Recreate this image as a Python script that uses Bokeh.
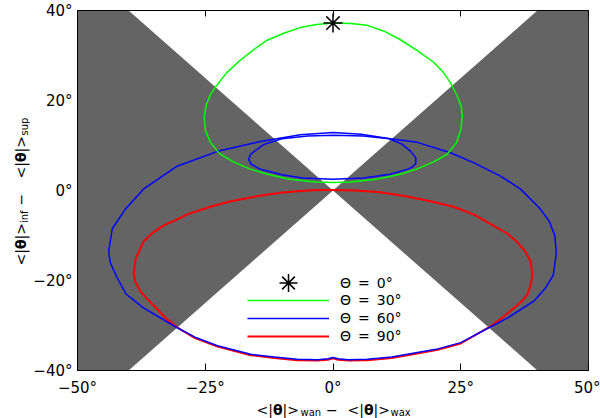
import numpy as np
from bokeh.plotting import figure
from bokeh.layouts import row, column
from bokeh.models import (LinearAxis, FixedTicker, Legend, LegendItem, ColumnDataSource, Range1d)
from bokeh.core.properties import value, field
from bokeh.embed import file_html
from bokeh.resources import INLINE

# ---------------- data (degrees) ----------------
X_LIM = [-50, 50]
Y_LIM = [-40, 40]
X_TICKS = [-50, -25, 0, 25, 50]
X_TICK_LABELS = ["\u221250\u00b0", "\u221225\u00b0", "0\u00b0", "25\u00b0", "50\u00b0"]
Y_TICKS = [-40, -20, 0, 20, 40]
Y_TICK_LABELS = ["\u221240\u00b0", "\u221220\u00b0", "0\u00b0", "20\u00b0", "40\u00b0"]

SERIES_NAMES = ["\u0398\u2002=\u20020\u00b0", "\u0398\u2002=\u200230\u00b0",
                "\u0398\u2002=\u200260\u00b0", "\u0398\u2002=\u200290\u00b0"]

# Theta = 0 : single point
P0_X = [0.0]
P0_Y = [37.2]

# Theta = 30 (green loop)
G_X = [0, 3.5, 6.7, 10, 13.2, 16.5, 19.7, 21.5, 23.0, 24.3, 25.1, 25.3, 25.0, 24.2, 22.3,
       19.6, 16.5, 13.2, 8.5, 3.4, 0, -3.4, -8.5, -12.8, -16.3, -19.4, -22.2, -24.0, -25.0,
       -25.2, -24.8, -24.0, -23.0, -20.8, -18.1, -15.5, -12.9, -9.5, -6.4, -3.2, 0]
G_Y = [37.2, 37.1, 36.7, 35.4, 33.5, 31.1, 28.5, 26.4, 23.9, 21.0, 18.7, 16.4, 13.5, 10.7, 8.0,
       6.3, 4.8, 3.6, 2.5, 1.9, 1.8, 1.9, 2.5, 3.6, 4.8, 6.3, 8.2, 10.7, 13.5,
       16.4, 19.0, 21.3, 23.0, 26.2, 29.0, 31.3, 33.4, 35.0, 36.2, 36.9, 37.2]

# Theta = 60 (blue, outer loop)
B_X = [0, 5.5, 11.2, 16.5, 23.0, 27.5, 32.8, 36.7, 40.4, 42.3, 43.4, 43.7, 43.1, 41.5, 39.3,
       34.2, 30.5, 25.0, 20.5, 16.5, 11.5, 6.7, 3.0, 1.0, 0, -1.0, -3.0, -7.0, -11.5, -16.1,
       -22.6, -27, -30.5, -37.1, -40.5, -42.2, -43.6, -43.9, -43.2, -40.6, -37.1, -30.5,
       -22.6, -14.2, -6.4, 0]
B_Y = [12.9, 12.5, 11.5, 10.7, 8.4, 6.2, 3.2, 0.3, -3.9, -6.8, -10.0, -14.0, -18.8, -21.8, -24.6,
       -28.3, -30.5, -33.8, -35.2, -36.0, -37.0, -37.5, -37.6, -37.4, -37.1, -37.4, -37.6, -37.5,
       -37.0, -36.4, -34.5, -32.6, -30.5, -26.1, -23.0, -19.5, -16.0, -13.5, -8.5, -4.1, 0.3, 5.4,
       8.7, 10.9, 12.4, 12.9]

# Theta = 60 (blue, inner loop)
BI_X = [0, 6, 11, 13.5, 15.2, 16.2, 16.2, 15.5, 14.5, 11.2, 6, 0, -6, -10, -14.2, -16,
        -16.5, -16.1, -13.6, -10, -5, 0]
BI_Y = [12.3, 12.1, 11.5, 10.3, 8.7, 7.3, 6.0, 5.2, 4.7, 3.6, 2.8, 2.5, 2.8, 3.5, 4.7, 5.8,
        6.9, 8.1, 10.2, 11.5, 12.1, 12.3]

# Theta = 90 (red loop)
R_X = [0, 4.5, 9.3, 14, 19.1, 23.6, 27.5, 31.4, 34, 36.0, 37.6, 38.7, 39.0, 38.7, 38.0, 36.8,
       35.4, 33.3, 30.8, 25.0, 20.5, 16.5, 11.5, 6.7, 3.0, 1.0, 0, -1.0, -3.0, -7.0, -11.5,
       -16.1, -22.6, -27, -30.5, -32.8, -34.6, -36.3, -37.7, -38.7, -39.0, -38.6, -37.1, -35.3,
       -33.2, -30.8, -28.5, -24.0, -20, -15, -10.3, -6.4, -3, 0]
R_Y = [0.1, 0.0, -0.4, -1.2, -2.4, -3.6, -5.3, -7.8, -9.5, -11.4, -13.5, -15.8, -18.8, -21.0,
       -23.2, -24.8, -26.1, -28.1, -30.2, -34.0, -35.4, -36.2, -37.2, -37.7, -37.8, -37.6, -37.3,
       -37.6, -37.8, -37.7, -37.2, -36.6, -34.7, -32.8, -30.4, -28.3, -26.1, -24.2, -22.4, -20.3,
       -18.4, -15.1, -11.4, -9.4, -7.8, -6.6, -5.3, -3.6, -2.4, -1.3, -0.5, -0.1, 0.1, 0.1]

# axis-title pieces: (text, size px, style)
XLABEL_PIECES = [("<|", 14, "normal"), ("\u03b8", 14, "bold"), ("|>", 14, "normal"),
                 ("wan", 10, "normal"), ("\u2212", 14, "normal"), ("<|", 14, "normal"),
                 ("\u03b8", 14, "bold"), ("|>", 14, "normal"), ("wax", 10, "normal")]
YLABEL_PIECES = [("<|", 14, "normal"), ("\u03b8", 14, "bold"), ("|>", 14, "normal"),
                 ("inf", 10, "normal"), ("\u2212", 14, "normal"), ("<|", 14, "normal"),
                 ("\u03b8", 14, "bold"), ("|>", 14, "normal"), ("sup", 10, "normal")]

FONT = "DejaVu Sans"

# ---------------- main figure ----------------
p = figure(width=570, height=399, x_range=tuple(X_LIM), y_range=tuple(Y_LIM),
           output_backend="svg", toolbar_location=None,
           min_border_left=47, min_border_right=12, min_border_top=10, min_border_bottom=26,
           x_axis_type=None, y_axis_type=None)
p.grid.visible = False
p.background_fill_color = "white"
p.border_fill_color = "white"
p.outline_line_color = "black"
p.outline_line_width = 1

# grey wedges |x| > |y|, built from the axis limits
xl, xr = X_LIM
yb, yt = Y_LIM
left_x = [xl, yb, 0, yb, xl]
left_y = [yb, yb, 0, yt, yt]
right_x = [xr, yt, 0, yt, xr]
right_y = [yb, yb, 0, yt, yt]
p.patches(xs=[left_x, right_x], ys=[left_y, right_y], fill_color="#646464",
          line_color=None)

r_red = p.line(R_X, R_Y, line_color="#ff0000", line_width=2)
r_blue = p.line(B_X, B_Y, line_color="#0000ff", line_width=1.5)
p.line(BI_X, BI_Y, line_color="#0000ff", line_width=1.5)
r_green = p.line(G_X, G_Y, line_color="#00ff00", line_width=1.5)
r_star = p.scatter(P0_X, P0_Y, marker="asterisk", size=19, line_color="black",
                   line_width=1.5)

xb = LinearAxis(ticker=FixedTicker(ticks=X_TICKS),
                major_label_overrides=dict(zip(X_TICKS, X_TICK_LABELS)))
xb.major_tick_in = 7
xb.major_tick_out = 0
xb.minor_tick_line_color = None
xb.major_label_standoff = 8
xb.major_label_text_font = FONT
xb.major_label_text_font_size = "15px"
xb.major_label_text_color = "black"
xb.axis_line_color = "black"
p.add_layout(xb, "below")

xt = LinearAxis(ticker=FixedTicker(ticks=X_TICKS))
xt.major_tick_in = 6
xt.major_tick_out = 0
xt.minor_tick_line_color = None
xt.major_label_text_font_size = "1px"
xt.major_label_text_color = None
xt.major_label_standoff = 0
xt.axis_line_color = "black"
p.add_layout(xt, "above")

yl = LinearAxis(ticker=FixedTicker(ticks=Y_TICKS),
                major_label_overrides=dict(zip(Y_TICKS, Y_TICK_LABELS)))
yl.major_tick_in = 0
yl.major_tick_out = 0
yl.minor_tick_line_color = None
yl.major_label_standoff = 5
yl.major_label_text_font = FONT
yl.major_label_text_font_size = "15px"
yl.major_label_text_color = "black"
yl.axis_line_color = "black"
p.add_layout(yl, "left")

def style_legend(lg):
    lg.background_fill_alpha = 0
    lg.border_line_color = None
    lg.glyph_width = 82
    lg.spacing = 0
    lg.padding = 0
    lg.margin = 0
    lg.label_standoff = 11
    lg.label_text_font = FONT
    lg.label_text_font_size = "14px"
    lg.label_text_color = "black"

leg_star = Legend(items=[LegendItem(label=SERIES_NAMES[0], renderers=[r_star])],
                  location=(170, 65))
style_legend(leg_star)
leg_star.glyph_height = 45
leg_star.label_height = 45
p.add_layout(leg_star, "center")

leg_lines = Legend(items=[LegendItem(label=SERIES_NAMES[1], renderers=[r_green]),
                          LegendItem(label=SERIES_NAMES[2], renderers=[r_blue]),
                          LegendItem(label=SERIES_NAMES[3], renderers=[r_red])],
                   location=(170, 25))
style_legend(leg_lines)
leg_lines.glyph_height = 18
leg_lines.label_height = 18
p.add_layout(leg_lines, "center")

# ---------------- axis-title strips (page-pixel coordinates) ----------------
def strip(w, h, xr_, yr_):
    f = figure(width=w, height=h, x_range=Range1d(*xr_), y_range=Range1d(*yr_),
               output_backend="svg", toolbar_location=None,
               min_border=0, x_axis_type=None, y_axis_type=None)
    f.grid.visible = False
    f.outline_line_color = None
    f.background_fill_color = "white"
    f.border_fill_color = "white"
    return f

# left strip: page x 0..30, page y 0..418 (y downward)
yf = strip(30, 418, (0, 30), (418, 0))
y_starts = [265, 248.6, 239, 222.5, 205, 178, 161.6, 152, 135]
y_base = [20 if s == 14 else 24 for _, s, _ in YLABEL_PIECES]
ysrc = ColumnDataSource(dict(x=y_base, y=y_starts,
                             text=[t for t, _, _ in YLABEL_PIECES],
                             size=[f"{s}px" for _, s, _ in YLABEL_PIECES],
                             style=[st for _, _, st in YLABEL_PIECES]))
yf.text(x="x", y="y", text="text", source=ysrc, angle=np.pi / 2,
        text_font=value(FONT), text_font_size=field("size"), text_font_style=field("style"),
        text_color="black", text_align="left", text_baseline="alphabetic")

# bottom strip: its frame lines up with the main frame (page x 77..588), page y 399..418
xf = strip(570, 19, (77, 588), (418, 399))
x_starts = [256, 272.5, 282, 300, 325.5, 347, 363.5, 373, 390]
x_mid = [409.8 if s == 14 else 412 for _, s, _ in XLABEL_PIECES]
xsrc = ColumnDataSource(dict(x=x_starts, y=x_mid,
                             text=[t for t, _, _ in XLABEL_PIECES],
                             size=[f"{s}px" for _, s, _ in XLABEL_PIECES],
                             style=[st for _, _, st in XLABEL_PIECES]))
xf.text(x="x", y="y", text="text", source=xsrc,
        text_font=value(FONT), text_font_size=field("size"), text_font_style=field("style"),
        text_color="black", text_align="left", text_baseline="middle")

layout = row(yf, column(p, xf, spacing=0), spacing=0)
open("out.html", "w").write(file_html(layout, INLINE))
